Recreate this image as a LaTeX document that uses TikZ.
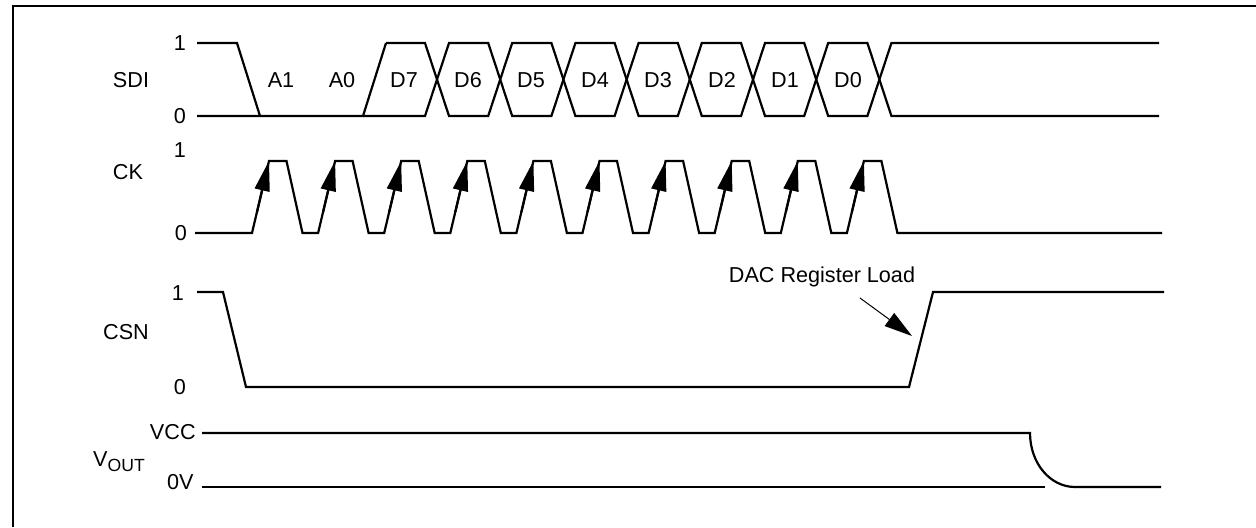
\documentclass[tikz,border=0pt]{standalone}
\usepackage{fontspec}
\setmainfont{Liberation Sans}
\usetikzlibrary{arrows.meta,calc}
\begin{document}
\begin{tikzpicture}[x=0.5pt,y=-0.5pt,
  wave/.style={line width=1.1pt, line join=miter},
  frameline/.style={line width=1pt},
  lbl/.style={font=\fontsize{10.8}{12}\selectfont, inner sep=0pt},
  ckarrow/.style={line width=1.1pt, -{Triangle[length=15pt,width=7.5pt]}},
  loadarrow/.style={line width=0.5pt, -{Triangle[length=14pt,width=8pt]}}]
\useasboundingbox (0,0) rectangle (1256,527);
% frame
\draw[frameline] (13,527) -- (13,5.5) -- (1256,5.5);

% ---------------- SDI ----------------
\node[lbl] (sdi) at (131,80) {SDI};
\node[lbl] (sdi1) at (180,43) {1};
\node[lbl] (sdi0) at (180,116) {0};
\draw[wave] (197,43) -- (237,43) -- (260,116);
\draw[wave] (197,116) -- (363,116) -- (386,43);
\draw[wave] (386,43)
  foreach \k [evaluate=\k as \c using 437+63.2*\k,
              evaluate=\k as \ya using {ifthenelse(mod(\k,2)==0,43,116)},
              evaluate=\k as \yb using {159-\ya}] in {0,...,7}
  { -- (\c-12,\ya) -- (\c+12,\yb) } -- (1159,43);
\draw[wave] (363,116)
  foreach \k [evaluate=\k as \c using 437+63.2*\k,
              evaluate=\k as \ya using {ifthenelse(mod(\k,2)==0,116,43)},
              evaluate=\k as \yb using {159-\ya}] in {0,...,7}
  { -- (\c-12,\ya) -- (\c+12,\yb) } -- (1159,116);
\node[lbl] (a1) at (281,80) {A1};
\node[lbl] (a0) at (342,80) {A0};
\node[lbl] (d7) at (404,80) {D7};
\node[lbl] (d6) at (468,80) {D6};
\node[lbl] (d5) at (531,80) {D5};
\node[lbl] (d4) at (595,80) {D4};
\node[lbl] (d3) at (658,80) {D3};
\node[lbl] (d2) at (722,80) {D2};
\node[lbl] (d1) at (785,80) {D1};
\node[lbl] (d0) at (848,80) {D0};

% ---------------- CK ----------------
\node[lbl] (ck) at (128,172) {CK};
\node[lbl] (ck1) at (180,150) {1};
\node[lbl] (ck0) at (181,233) {0};
\draw[wave] (195,233)
  foreach \n [evaluate=\n as \r using 252+66.1*\n] in {0,...,9}
  { -- (\r,233) -- (\r+17,161) -- (\r+34.5,161) -- (\r+50.5,233) }
  -- (1162,233);
\foreach \n [evaluate=\n as \r using 252+66.1*\n] in {0,...,9}
  \draw[ckarrow] (\r+5,212) -- (\r+17,161);

% ---------------- CSN ----------------
\node[lbl] (csn) at (126,332) {CSN};
\node[lbl] (csn1) at (178,293) {1};
\node[lbl] (csn0) at (180,387) {0};
\draw[wave] (197,292) -- (223,292) -- (246,387) -- (909,387) -- (933,292) -- (1164,292);
\node[lbl] (dac) at (822,277) {DAC Register Load};
\coordinate (loadtail) at (860,298);
\coordinate (loadtip) at (912,336);
\draw[loadarrow] (loadtail) -- (loadtip);

% ---------------- VOUT ----------------
\node[lbl, anchor=east] (vcc) at (196,432) {VCC};
\node[lbl, anchor=east] (zv) at (194,482) {0V};
\node[lbl] (vout) at (119,462) {V\raisebox{-0.45ex}{\fontsize{8.8}{10}\selectfont OUT}};
\draw[wave] (202,433) -- (1030,433) .. controls (1030,463) and (1050,487) .. (1075,487) -- (1161,487);
\draw[line width=0.9pt] (202,487) -- (1045,487);
\end{tikzpicture}
\end{document}
